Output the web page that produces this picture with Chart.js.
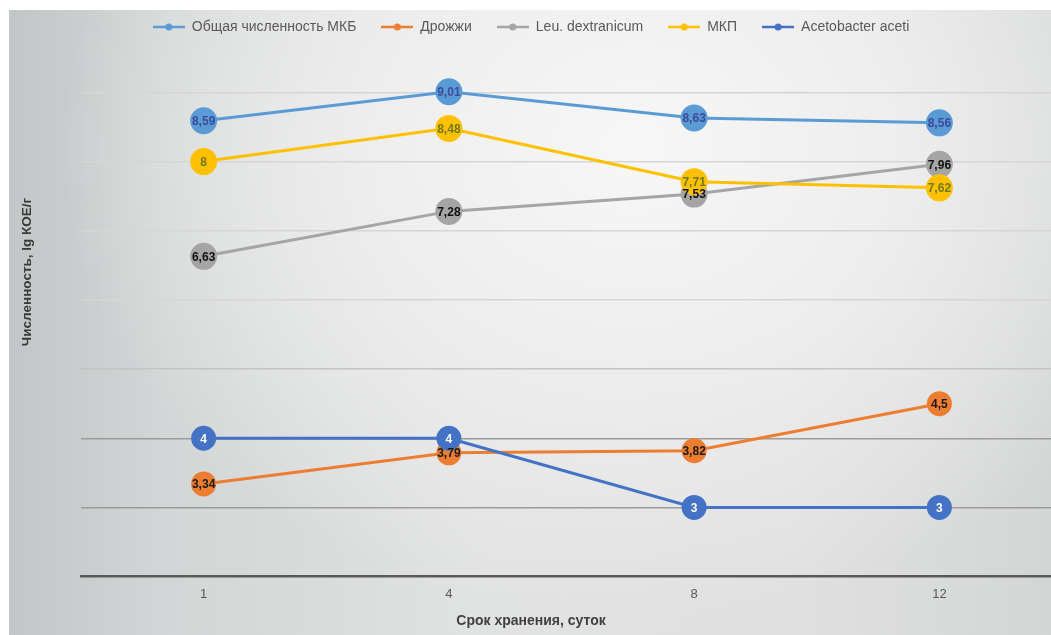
<!DOCTYPE html>
<html lang="ru">
<head>
    <meta charset="UTF-8">
    <title>Численность микроорганизмов при хранении</title>
    <script src="https://cdn.jsdelivr.net/npm/chart.js"></script>
    <style>
        html, body { margin: 0; padding: 0; background: #fff; overflow: hidden; }
        #wrap { position: relative; width: 1051px; height: 635px; overflow: hidden; }
        #bg {
            position: absolute; left: 9px; top: 10px; right: 0; bottom: 0;
            background:
                radial-gradient(ellipse 55% 75% at 60% 22%, #f7f7f7 0%, #eeeeee 45%, rgba(230,230,230,0) 100%),
                linear-gradient(to right, #c2c6c6 0%, #d3d6d6 15%, #e1e2e2 45%, #e0e0e0 75%, #d4d6d6 100%);
        }
        #chart { position: absolute; left: 0; top: 0; }
    </style>
</head>
<body>
<div id="wrap">
    <div id="bg"></div>
    <canvas id="chart" width="1062" height="635"></canvas>
</div>
<script>
    // storage time, days
    const days = ['1', '4', '8', '12'];
    // lg CFU/g
    const totalLab = [8.59, 9.01, 8.63, 8.56];
    const yeasts = [3.34, 3.79, 3.82, 4.5];
    const leuDextranicum = [6.63, 7.28, 7.53, 7.96];
    const mkp = [8, 8.48, 7.71, 7.62];
    const acetobacter = [4, 4, 3, 3];

    const seriesNames = ['Общая численность МКБ', 'Дрожжи', 'Leu. dextranicum', 'МКП', 'Acetobacter aceti'];
    const seriesColors = ['#5b9bd5', '#ed7d31', '#a5a5a5', '#ffc000', '#4472c4'];
    const labelColors = ['#3b4a9b', '#1a1a1a', '#111111', '#6f7a1c', '#ffffff'];

    const FONT = '"Liberation Sans", Arial, sans-serif';

    // small legend marker: line with a dot in the middle
    function legendMarker(color) {
        const c = document.createElement('canvas');
        c.width = 32; c.height = 10;
        const g = c.getContext('2d');
        g.strokeStyle = color;
        g.lineWidth = 2.5;
        g.beginPath(); g.moveTo(0, 5); g.lineTo(32, 5); g.stroke();
        g.fillStyle = color;
        g.beginPath(); g.arc(16, 5, 3.5, 0, Math.PI * 2); g.fill();
        return c;
    }
    const markers = seriesColors.map(legendMarker);

    function fmt(v) {
        return String(v).replace('.', ',');
    }

    // values written in the centre of every point
    const pointLabels = {
        id: 'pointLabels',
        afterDatasetsDraw(chart) {
            const ctx = chart.ctx;
            ctx.save();
            ctx.font = 'bold 12px ' + FONT;
            ctx.textAlign = 'center';
            ctx.textBaseline = 'middle';
            chart.data.datasets.forEach((ds, i) => {
                const meta = chart.getDatasetMeta(i);
                ctx.fillStyle = labelColors[i];
                meta.data.forEach((pt, j) => {
                    ctx.fillText(fmt(ds.data[j]), pt.x, pt.y + 1);
                });
            });
            ctx.restore();
        }
    };

    // rotated y axis caption
    const yCaption = {
        id: 'yCaption',
        afterDraw(chart) {
            const ctx = chart.ctx;
            ctx.save();
            ctx.translate(27, 272);
            ctx.rotate(-Math.PI / 2);
            ctx.font = 'bold 13.5px ' + FONT;
            ctx.fillStyle = '#3a3a3a';
            ctx.textAlign = 'center';
            ctx.textBaseline = 'middle';
            ctx.fillText('Численность, lg КОЕ/г', 0, 0);
            ctx.restore();
        }
    };

    const series = [totalLab, yeasts, leuDextranicum, mkp, acetobacter];
    const radii = [12, 11, 12, 12, 11];

    const datasets = series.map((data, i) => ({
        label: seriesNames[i],
        data: data,
        borderColor: seriesColors[i],
        backgroundColor: seriesColors[i],
        pointBackgroundColor: seriesColors[i],
        pointBorderColor: seriesColors[i],
        pointRadius: radii[i],
        pointHoverRadius: radii[i],
        borderWidth: 3,
        tension: 0,
        fill: false,
        // later series are painted over earlier ones
        order: series.length - i
    }));

    new Chart(document.getElementById('chart').getContext('2d'), {
        type: 'line',
        data: { labels: days, datasets: datasets },
        plugins: [pointLabels, yCaption],
        options: {
            responsive: false,
            animation: false,
            layout: { autoPadding: false, padding: { top: -5, left: 0, right: 0, bottom: 0 } },
            plugins: {
                legend: {
                    position: 'top',
                    labels: {
                        usePointStyle: true,
                        pointStyleWidth: 32,
                        boxHeight: 10,
                        padding: 25,
                        color: '#595959',
                        font: { family: FONT, size: 14 },
                        sort: (a, b) => a.datasetIndex - b.datasetIndex,
                        generateLabels(chart) {
                            return Chart.defaults.plugins.legend.labels.generateLabels(chart).map(item => {
                                item.pointStyle = markers[item.datasetIndex];
                                return item;
                            });
                        }
                    }
                },
                title: {
                    display: true,
                    position: 'bottom',
                    text: 'Срок хранения, суток',
                    color: '#404040',
                    font: { family: FONT, size: 14, weight: 'bold' },
                    padding: { top: 1, bottom: 5 }
                },
                tooltip: { enabled: false }
            },
            scales: {
                x: {
                    offset: true,
                    grid: { display: false, drawTicks: false, offset: true },
                    border: { color: '#5a5a5a', width: 2.5 },
                    ticks: {
                        color: '#595959',
                        padding: 10,
                        font: { family: FONT, size: 13 }
                    }
                },
                y: {
                    min: 2,
                    max: 9.7,
                    afterFit(scale) { scale.width = 81; },
                    afterBuildTicks(scale) {
                        scale.ticks = scale.ticks.filter(t => Number.isInteger(t.value));
                    },
                    border: { display: false },
                    ticks: { display: false, stepSize: 1 },
                    grid: {
                        drawTicks: false,
                        lineWidth: 1.5,
                        color: ctx => {
                            const v = ctx.tick ? ctx.tick.value : 0;
                            if (v <= 2) return 'rgba(0,0,0,0)';
                            if (v <= 4) return '#9b9b9b';
                            if (v === 5) return '#c4c4c4';
                            return '#d6d6d6';
                        }
                    }
                }
            }
        }
    });
</script>
</body>
</html>
